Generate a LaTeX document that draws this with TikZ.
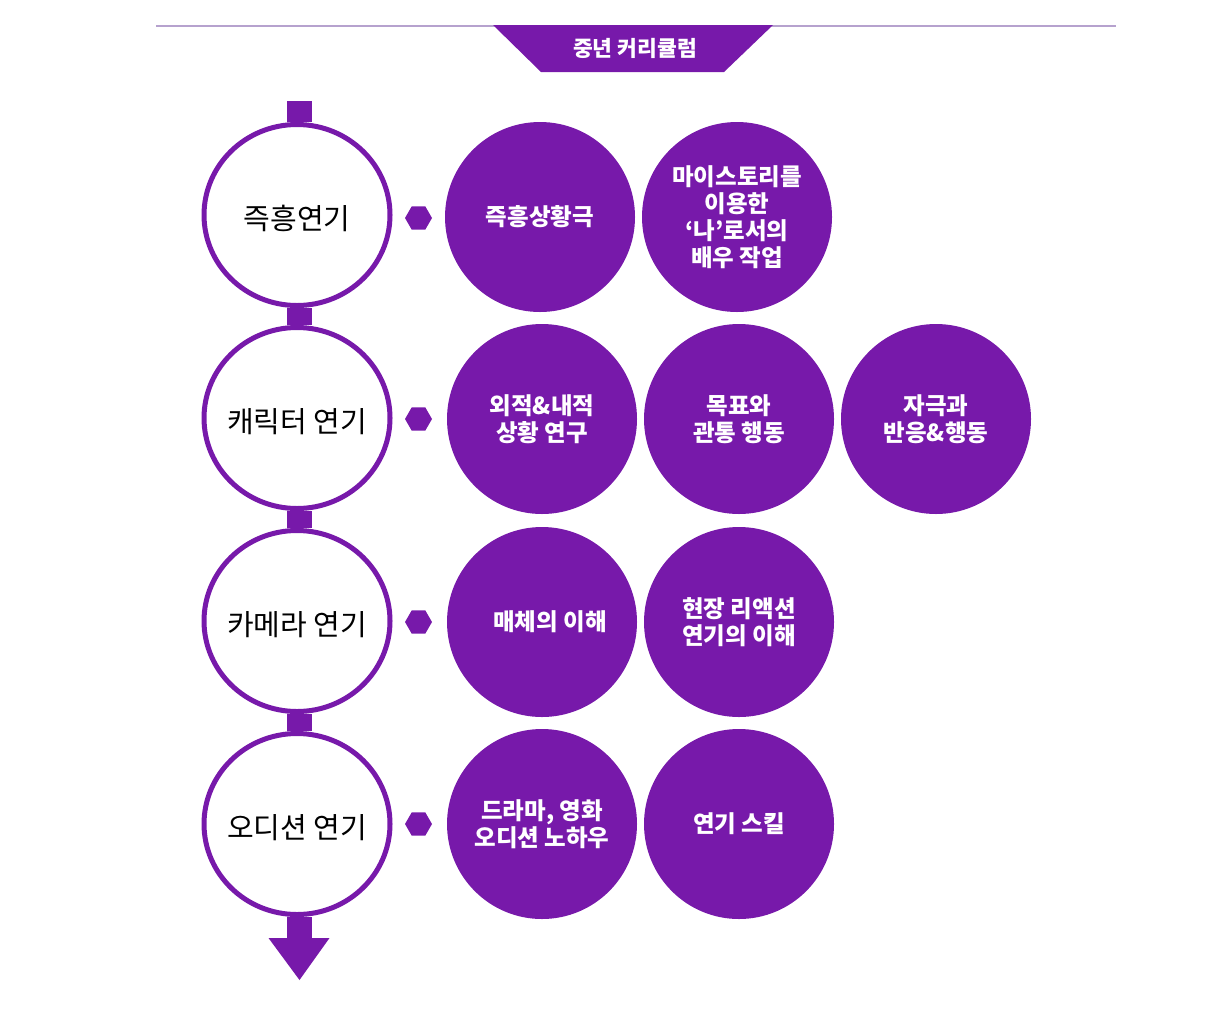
\documentclass[tikz,border=0pt]{standalone}
\usepackage{fontspec}
\setmainfont{Noto Sans CJK KR}
\usetikzlibrary{shapes.geometric}
\definecolor{pp}{RGB}{119,25,170}
\definecolor{lineC}{RGB}{182,162,206}
\newcommand{\dn}[1]{\raisebox{-3.5pt}[\height][\depth]{#1}}
\begin{document}
\begin{tikzpicture}[x=1pt,y=-1pt,
 ring/.style={ellipse, draw=pp, line width=5pt, fill=white, minimum width=186pt, minimum height=181pt, inner ysep=0pt, inner xsep=-40pt, font=\fontsize{29}{32}\selectfont},
 ball/.style={circle, fill=pp, minimum size=190pt, inner sep=0pt, text=white, align=center, font=\bfseries\fontsize{23.5}{27}\selectfont},
 hexa/.style={regular polygon, regular polygon sides=6, fill=pp, minimum size=27pt, inner sep=0pt},
 link/.style={draw=pp, line width=25pt},
 bannertext/.style={text=white, inner sep=0pt, font=\bfseries\fontsize{21.5}{24}\selectfont},
]
\useasboundingbox (0,0) rectangle (1222,1010);
% top rule and banner
\coordinate (ruleL) at (156,26);
\coordinate (ruleR) at (1116,26);
\draw[lineC, line width=2pt] (ruleL) -- (ruleR);
\fill[pp] (493,25) -- (773,25) -- (724,72) -- (541,72) -- cycle;
\node[bannertext] (banner) at (635,48) {중년 커리큘럼};
% left rings
\node[ring] (L1) at (297,215) {\dn{즉흥연기}};
\node[ring] (L2) at (297,418) {\dn{캐릭터 연기}};
\node[ring] (L3) at (297,621) {\dn{카메라 연기}};
\node[ring] (L4) at (297,824) {\dn{오디션 연기}};
% connectors
\coordinate (top) at (299.5,101);
\coordinate (bot) at (299.5,938);
\draw[link] (top) -- (top |- L1.north);
\draw[link] (top |- L1.south) -- (top |- L2.north);
\draw[link] (top |- L2.south) -- (top |- L3.north);
\draw[link] (top |- L3.south) -- (top |- L4.north);
\draw[link] (top |- L4.south) -- (bot);
\fill[pp] ([xshift=-31pt]bot) -- ([xshift=30pt]bot) -- ([yshift=-42pt]bot) -- cycle;
% hexagons
\node[hexa] (h1) at (418.5,218) {};
\node[hexa] (h2) at (418.5,419) {};
\node[hexa] (h3) at (418.5,622) {};
\node[hexa] (h4) at (418.5,824) {};
% purple balls
\node[ball] (a1) at (540,217) {즉흥상황극};
\node[ball] (a2) at (737,217) {마이스토리를\\이용한\\‘나’로서의\\배우 작업};
\node[ball] (b1) at (542,419) {외적\&내적\\상황 연구};
\node[ball] (b2) at (739,419) {목표와\\관통 행동};
\node[ball] (b3) at (936,419) {자극과\\반응\&행동};
\node[ball] (c1) at (542,622) {\hspace*{16pt}매체의 이해};
\node[ball] (c2) at (739,622) {현장 리액션\\연기의 이해};
\node[ball] (d1) at (542,824) {드라마, 영화\\오디션 노하우};
\node[ball] (d2) at (739,824) {연기 스킬};
\end{tikzpicture}
\end{document}
